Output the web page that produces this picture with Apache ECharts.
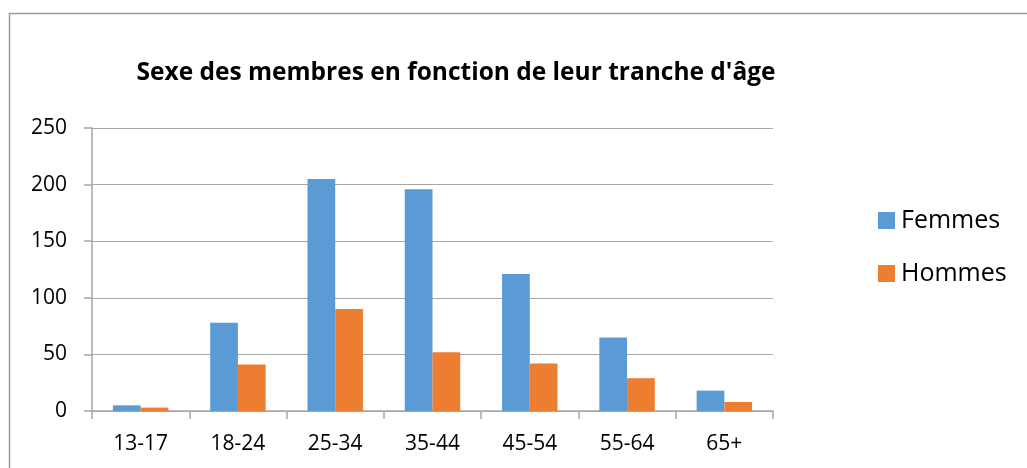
<!DOCTYPE html>
<html>
<head>
<meta charset="utf-8">
<script src="https://cdn.jsdelivr.net/npm/echarts@6/dist/echarts.min.js"></script>
<style>
html,body{margin:0;padding:0;background:#fff;}
#c{width:1027px;height:468px;}
</style>
</head>
<body>
<div id="c"></div>
<script>
const categories = ['13-17','18-24','25-34','35-44','45-54','55-64','65+'];
const femmes = [5, 78, 205, 196, 121, 65, 18];
const hommes = [3, 41, 90, 52, 42, 29, 8];
const titleText = "Sexe des membres en fonction de leur tranche d'âge";

const chart = echarts.init(document.getElementById('c'));
const font = '"Open Sans", Lato, sans-serif';
chart.setOption({
  animation: false,
  backgroundColor: '#fff',
  textStyle: { fontFamily: font },
  graphic: [{
    type: 'rect',
    shape: { x: 9.5, y: 13.5, width: 1030, height: 470 },
    style: { fill: 'none', stroke: '#9a9a9a', lineWidth: 1.5 },
    silent: true, z: -10
  }],
  title: {
    text: titleText,
    left: 451, top: 56, textAlign: 'center',
    textStyle: { fontFamily: font, fontWeight: 'bold', fontSize: 24.5, color: '#000' }
  },
  legend: {
    orient: 'vertical',
    left: 873, top: 203,
    itemWidth: 17, itemHeight: 17, itemGap: 28,
    icon: 'rect',
    textStyle: { fontFamily: font, fontSize: 25, color: '#000', padding: [0,0,0,1] },
    data: ['Femmes', 'Hommes']
  },
  grid: { left: 92, right: 254, top: 128, bottom: 57, containLabel: false },
  xAxis: {
    type: 'category',
    data: categories,
    axisLine: { lineStyle: { color: '#a6a6a6', width: 1.5 } },
    axisTick: { show: true, length: 8, lineStyle: { color: '#a6a6a6', width: 1.5 } },
    axisLabel: { fontFamily: font, fontSize: 21, color: '#000', margin: 23 }
  },
  yAxis: {
    type: 'value',
    min: 0, max: 250, interval: 50,
    axisLine: { show: true, lineStyle: { color: '#a6a6a6', width: 1.5 } },
    axisTick: { show: true, length: 8, lineStyle: { color: '#a6a6a6', width: 1.5 } },
    splitLine: { lineStyle: { color: '#a6a6a6', width: 1.2 } },
    axisLabel: { fontFamily: font, fontSize: 21, color: '#000', margin: 25 }
  },
  series: [
    { name: 'Femmes', type: 'bar', data: femmes, itemStyle: { color: '#5b9bd5' }, barGap: '0%', barCategoryGap: '43%' },
    { name: 'Hommes', type: 'bar', data: hommes, itemStyle: { color: '#ed7d31' }, barGap: '0%', barCategoryGap: '43%' }
  ]
});
</script>
</body>
</html>
